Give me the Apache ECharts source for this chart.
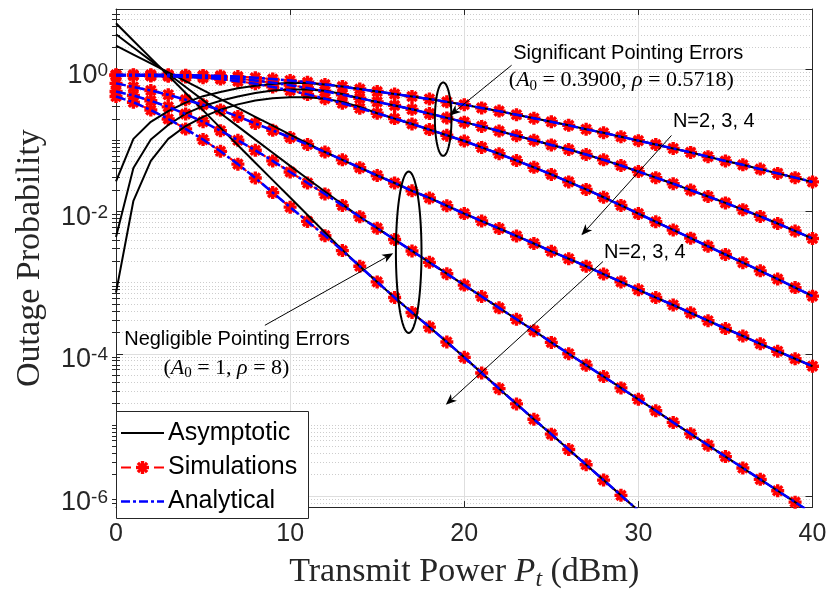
<!DOCTYPE html>
<html>
<head>
<meta charset="utf-8">
<script src="https://cdn.jsdelivr.net/npm/echarts@6/dist/echarts.min.js"></script>
<style>
html,body{margin:0;padding:0;background:#fff;}
#c{width:830px;height:597px;}
</style>
</head>
<body>
<div id="c"></div>
<script>
// ---------- DATA ----------
// x: transmit power (dBm)
const powerDbm = [0,1,2,3,4,5,6,7,8,9,10,11,12,13,14,15,16,17,18,19,20,21,22,23,24,25,26,27,28,29,30,31,32,33,34,35,36,37,38,39,40];

// log10(outage probability), exact curves (simulation == analytical)
// Significant pointing errors (A0 = 0.3900, rho = 0.5718), N = 2, 3, 4
const sigN2 = [-0.08,-0.08,-0.08,-0.08,-0.085,-0.09,-0.095,-0.105,-0.12,-0.14,-0.16,-0.185,-0.215,-0.245,-0.28,-0.315,-0.35,-0.385,-0.42,-0.46,-0.50,-0.545,-0.59,-0.64,-0.69,-0.74,-0.79,-0.845,-0.895,-0.95,-1.005,-1.06,-1.115,-1.17,-1.23,-1.29,-1.345,-1.405,-1.465,-1.525,-1.585];
const sigN3 = [-0.085,-0.085,-0.09,-0.09,-0.095,-0.10,-0.115,-0.135,-0.16,-0.19,-0.225,-0.265,-0.31,-0.36,-0.41,-0.46,-0.51,-0.565,-0.625,-0.685,-0.745,-0.805,-0.87,-0.935,-1.0,-1.065,-1.13,-1.20,-1.275,-1.355,-1.44,-1.525,-1.61,-1.70,-1.79,-1.88,-1.975,-2.07,-2.17,-2.275,-2.38];
const sigN4 = [-0.09,-0.09,-0.095,-0.10,-0.11,-0.12,-0.14,-0.17,-0.205,-0.25,-0.30,-0.355,-0.415,-0.48,-0.55,-0.62,-0.695,-0.77,-0.85,-0.93,-1.01,-1.10,-1.19,-1.285,-1.38,-1.48,-1.585,-1.69,-1.80,-1.915,-2.03,-2.145,-2.26,-2.375,-2.49,-2.605,-2.72,-2.835,-2.95,-3.07,-3.19];
// Negligible pointing errors (A0 = 1, rho = 8), N = 2, 3, 4
const negN2 = [-0.20,-0.25,-0.30,-0.36,-0.43,-0.50,-0.575,-0.665,-0.765,-0.86,-0.96,-1.06,-1.165,-1.275,-1.385,-1.495,-1.60,-1.71,-1.81,-1.92,-2.03,-2.135,-2.24,-2.345,-2.45,-2.56,-2.665,-2.77,-2.88,-2.99,-3.10,-3.21,-3.315,-3.425,-3.535,-3.645,-3.75,-3.86,-3.965,-4.07,-4.175];
const negN3 = [-0.315,-0.37,-0.445,-0.53,-0.63,-0.74,-0.865,-1.0,-1.14,-1.29,-1.445,-1.60,-1.755,-1.915,-2.075,-2.235,-2.395,-2.555,-2.715,-2.875,-3.035,-3.195,-3.355,-3.515,-3.675,-3.84,-4.0,-4.16,-4.32,-4.48,-4.64,-4.80,-4.965,-5.125,-5.285,-5.445,-5.605,-5.765,-5.925,-6.085,-6.245];
const negN4 = [-0.385,-0.465,-0.575,-0.70,-0.84,-0.99,-1.155,-1.335,-1.53,-1.735,-1.94,-2.14,-2.34,-2.55,-2.77,-2.99,-3.21,-3.42,-3.625,-3.835,-4.05,-4.27,-4.49,-4.705,-4.92,-5.13,-5.345,-5.56,-5.775,-5.99,-6.205];

// Asymptotic curves: low-power part read separately, afterwards they lie on the exact curves
const asymSigN2Head = [-1.577,-0.98,-0.74,-0.59,-0.47,-0.38,-0.32,-0.27,-0.235,-0.21,-0.19,-0.195];
const asymSigN3Head = [-2.36,-1.39,-0.99,-0.785,-0.625,-0.52,-0.445,-0.385,-0.335,-0.30,-0.285,-0.285,-0.305,-0.35];
const asymSigN4Head = [-3.14,-1.85,-1.29,-0.98,-0.80,-0.67,-0.57,-0.495,-0.44,-0.41,-0.395,-0.395,-0.415,-0.46,-0.53];
const asymNegN2Head = [0.33,0.205,0.08,-0.045,-0.17,-0.295,-0.42,-0.545,-0.67,-0.795,-0.92,-1.045];
const asymNegN3Head = [0.49,0.305,0.12,-0.065,-0.25,-0.435,-0.62,-0.805,-0.99,-1.175,-1.36,-1.54,-1.72,-1.90];
const asymNegN4Head = [0.645,0.40,0.155,-0.09,-0.335,-0.58,-0.825,-1.07,-1.315,-1.56,-1.805,-2.05,-2.295,-2.54];

// ticks
const xTicks = [0,10,20,30,40];
const yMajorTicks = [1e-6,1e-4,1e-2,1];
const yMin = 7e-7, yMax = 7;

// legend / annotation texts
const legendNames = ['Asymptotic','Simulations','Analytical'];
const annoSigTitle = 'Significant Pointing Errors';
const annoNegTitle = 'Negligible Pointing Errors';
const annoN = 'N=2, 3, 4';

// ---------- BUILD ----------
const toPairs = logs => logs.map((v,i) => [powerDbm[i], Math.pow(10, v)]);
const withTail = (head, exact) => head.concat(exact.slice(head.length));

const exactCurves = [sigN2, sigN3, sigN4, negN2, negN3, negN4];
const asymCurves = [
  withTail(asymSigN2Head, sigN2), withTail(asymSigN3Head, sigN3), withTail(asymSigN4Head, sigN4),
  withTail(asymNegN2Head, negN2), withTail(asymNegN3Head, negN3), withTail(asymNegN4Head, negN4)
];

const yMinorTicks = [];
for (let e = -7; e <= 0; e++) {
  for (let k = 1; k <= 9; k++) {
    if (k === 1 && e % 2 === 0) continue;
    const v = k * Math.pow(10, e);
    if (v > yMin * 1.0001 && v < yMax * 0.9999) yMinorTicks.push(v);
  }
}

// asterisk-like marker (+ and x bars)
const starBars = [
  [[-1.3,-5],[1.3,-5],[1.3,5],[-1.3,5]],
  [[-5,-1.3],[5,-1.3],[5,1.3],[-5,1.3]],
  [[-2.62,-4.46],[4.46,2.62],[2.62,4.46],[-4.46,-2.62]],
  [[-2.62,4.46],[-4.46,2.62],[2.62,-4.46],[4.46,-2.62]]
];
const starPath = 'path://' + starBars.map(b => 'M' + b.map(q => q[0] + ',' + q[1]).join('L') + 'Z').join(' ');

const RED = '#ff0000', BLUE = '#0000ff', BLACK = '#000000', AXIS = '#262626';
const SANS = 'Liberation Sans', SERIF = 'Liberation Serif';
const MARK = 13;

const series = [];
exactCurves.forEach(c => {
  series.push({
    type: 'line', name: 'Simulations', data: toPairs(c), z: 1,
    symbol: starPath, symbolSize: MARK, showSymbol: true,
    itemStyle: {color: RED}, lineStyle: {color: RED, width: 2, type: [8,5]},
    silent: true, animation: false, emphasis: {disabled: true}
  });
});
asymCurves.forEach(c => {
  series.push({
    type: 'line', name: 'Asymptotic', data: toPairs(c), z: 2,
    symbol: 'none', showSymbol: false,
    lineStyle: {color: BLACK, width: 2},
    silent: true, animation: false, emphasis: {disabled: true}
  });
});
exactCurves.forEach(c => {
  series.push({
    type: 'line', name: 'Analytical', data: toPairs(c), z: 3,
    symbol: 'none', showSymbol: false,
    lineStyle: {color: BLUE, width: 2.5, type: [10,3,3,3]},
    silent: true, animation: false, emphasis: {disabled: true}
  });
});

const yLabelFormatter = v => '{b|10}{s|' + Math.round(Math.log10(v)) + '}';
const baseLogAxis = {type: 'log', logBase: 10, min: yMin, max: yMax};

const option = {
  animation: false,
  backgroundColor: '#ffffff',
  grid: {left: 116, right: 17.5, top: 9, bottom: 79, containLabel: false},
  xAxis: [
    {
      type: 'value', min: 0, max: 40, interval: 10, position: 'bottom',
      name: 'Transmit Power {i|P}{s|t} (dBm)', nameLocation: 'middle', nameGap: 42,
      nameTextStyle: {
        fontFamily: SERIF, fontSize: 34, lineHeight: 40, color: AXIS,
        rich: {
          i: {fontFamily: SERIF, fontSize: 34, lineHeight: 40, fontStyle: 'italic', color: AXIS},
          s: {fontFamily: SERIF, fontSize: 24, lineHeight: 24, fontStyle: 'italic', verticalAlign: 'bottom', color: AXIS}
        }
      },
      axisLine: {show: true, onZero: false, lineStyle: {color: AXIS, width: 1}},
      axisTick: {show: true, inside: true, length: 6, lineStyle: {color: AXIS}},
      axisLabel: {show: true, margin: 15, fontFamily: SANS, fontSize: 25, color: AXIS, customValues: xTicks},
      splitLine: {show: true, lineStyle: {color: '#dedede', width: 1}}
    },
    {
      type: 'value', min: 0, max: 40, interval: 10, position: 'top',
      axisLine: {show: true, onZero: false, lineStyle: {color: AXIS, width: 1}},
      axisTick: {show: true, inside: true, length: 6, lineStyle: {color: AXIS}},
      axisLabel: {show: false}, splitLine: {show: false}
    }
  ],
  yAxis: [
    Object.assign({}, baseLogAxis, {
      position: 'left',
      name: 'Outage Probability', nameLocation: 'middle', nameGap: 66, nameRotate: 90,
      nameTextStyle: {fontFamily: SERIF, fontSize: 34, lineHeight: 40, color: AXIS},
      axisLine: {show: true, onZero: false, lineStyle: {color: AXIS, width: 1}},
      axisTick: {show: true, inside: true, length: 7, customValues: yMajorTicks, lineStyle: {color: AXIS}},
      axisLabel: {
        show: true, margin: 8, customValues: yMajorTicks, formatter: yLabelFormatter,
        padding: [12, 0, 0, 0], color: AXIS,
        rich: {
          b: {fontFamily: SANS, fontSize: 27, lineHeight: 28, color: AXIS},
          s: {fontFamily: SANS, fontSize: 19, lineHeight: 10, verticalAlign: 'top', color: AXIS}
        }
      },
      splitLine: {show: true, lineStyle: {color: '#dedede', width: 1}}
    }),
    Object.assign({}, baseLogAxis, {
      position: 'left',
      axisLine: {show: false},
      axisTick: {show: true, inside: true, length: 4, customValues: yMinorTicks, lineStyle: {color: AXIS}},
      axisLabel: {show: false},
      splitLine: {show: true, lineStyle: {color: '#cdcdcd', width: 1, type: [1, 2]}}
    }),
    Object.assign({}, baseLogAxis, {
      position: 'right',
      axisLine: {show: true, onZero: false, lineStyle: {color: AXIS, width: 1}},
      axisTick: {show: true, inside: true, length: 7, customValues: yMajorTicks, lineStyle: {color: AXIS}},
      axisLabel: {show: false}, splitLine: {show: false}
    }),
    Object.assign({}, baseLogAxis, {
      position: 'right',
      axisLine: {show: false},
      axisTick: {show: true, inside: true, length: 4, customValues: yMinorTicks, lineStyle: {color: AXIS}},
      axisLabel: {show: false}, splitLine: {show: false}
    })
  ],
  series: series
};

const chart = echarts.init(document.getElementById('c'), null, {renderer: 'canvas', width: 830, height: 597});
chart.setOption(option);

// ---------- ANNOTATIONS & LEGEND (graphic) ----------
const P = (d, lg) => chart.convertToPixel({xAxisIndex: 0, yAxisIndex: 0}, [d, Math.pow(10, lg)]);

const annoTexts = [
  {kind: 'sans', text: annoSigTitle, at: [29.42, 0.217]},
  {kind: 'math', text: '{p|(}{i|A}{s|0}{p| = 0.3900, }{i|ρ}{p| = 0.5718)}', at: [29.02, -0.156]},
  {kind: 'sans', text: annoN, at: [34.33, -0.737]},
  {kind: 'sans', text: annoN, at: [30.37, -2.57]},
  {kind: 'sans', text: annoNegTitle, at: [6.95, -3.797]},
  {kind: 'math', text: '{p|(}{i|A}{s|0}{p| = 1, }{i|ρ}{p| = 8)}', at: [6.34, -4.197]}
];
const annoArrows = [
  [[22.72, 0.055], [19.17, -0.652]],
  [[31.9, -0.932], [26.73, -2.335]],
  [[27.97, -2.703], [18.94, -4.717]],
  [[8.55, -3.6], [15.92, -2.588]]
];
const annoEllipses = [
  {c: [18.79, -0.703], rx: 8.3, ry: 36.7},
  {c: [16.81, -2.574], rx: 12.8, ry: 80.7}
];

const mathRich = {
  p: {fontFamily: SERIF, fontSize: 22, lineHeight: 26, color: '#000'},
  i: {fontFamily: SERIF, fontSize: 22, lineHeight: 26, fontStyle: 'italic', color: '#000'},
  s: {fontFamily: SERIF, fontSize: 15, lineHeight: 15, verticalAlign: 'bottom', color: '#000'}
};

const g = [];
annoTexts.forEach(t => {
  const p = P(t.at[0], t.at[1]);
  const style = {text: t.text, x: p[0], y: p[1], align: 'center', verticalAlign: 'middle',
    textAlign: 'center', textVerticalAlign: 'middle', fill: '#000'};
  if (t.kind === 'sans') { style.fontFamily = SANS; style.fontSize = 20; }
  else { style.rich = mathRich; style.fontFamily = SERIF; style.fontSize = 22; }
  g.push({type: 'text', z: 100, silent: true, style: style});
});
annoArrows.forEach(a => {
  const s = P(a[0][0], a[0][1]), e = P(a[1][0], a[1][1]);
  const dx = e[0] - s[0], dy = e[1] - s[1], len = Math.hypot(dx, dy);
  const ux = dx / len, uy = dy / len, nx = -uy, ny = ux;
  const hl = 11, hw = 4.5, notch = 8;
  g.push({type: 'line', z: 100, silent: true,
    shape: {x1: s[0], y1: s[1], x2: e[0] - ux * notch, y2: e[1] - uy * notch},
    style: {stroke: '#000', lineWidth: 1}});
  g.push({type: 'polygon', z: 100, silent: true,
    shape: {points: [
      [e[0], e[1]],
      [e[0] - ux * hl + nx * hw, e[1] - uy * hl + ny * hw],
      [e[0] - ux * notch, e[1] - uy * notch],
      [e[0] - ux * hl - nx * hw, e[1] - uy * hl - ny * hw]
    ]},
    style: {fill: '#000'}});
});
annoEllipses.forEach(el => {
  const c = P(el.c[0], el.c[1]);
  const pts = [];
  for (let k = 0; k < 96; k++) {
    const t = k / 96 * Math.PI * 2;
    pts.push([c[0] + el.rx * Math.cos(t), c[1] + el.ry * Math.sin(t)]);
  }
  g.push({type: 'polygon', z: 100, silent: true, shape: {points: pts},
    style: {fill: 'none', stroke: '#000', lineWidth: 2}});
});

// legend (drawn manually to reproduce MATLAB-style samples)
const LG = {x: 116.5, y: 411.5, w: 192, h: 107, rows: [433, 467.5, 501.5], lineX1: 121, lineX2: 164, textX: 168};
g.push({type: 'rect', z: 110, silent: true, shape: {x: LG.x, y: LG.y, width: LG.w, height: LG.h},
  style: {fill: '#fff', stroke: AXIS, lineWidth: 1}});
g.push({type: 'line', z: 111, silent: true, shape: {x1: LG.lineX1, y1: LG.rows[0], x2: LG.lineX2, y2: LG.rows[0]},
  style: {stroke: BLACK, lineWidth: 2}});
g.push({type: 'line', z: 111, silent: true, shape: {x1: LG.lineX1, y1: LG.rows[1], x2: LG.lineX1 + 10, y2: LG.rows[1]},
  style: {stroke: RED, lineWidth: 2}});
g.push({type: 'line', z: 111, silent: true, shape: {x1: LG.lineX2 - 10, y1: LG.rows[1], x2: LG.lineX2, y2: LG.rows[1]},
  style: {stroke: RED, lineWidth: 2}});
(function () {
  const cx = (LG.lineX1 + LG.lineX2) / 2, cy = LG.rows[1], sc = MARK / 10;
  starBars.forEach(b => g.push({type: 'polygon', z: 112, silent: true,
    shape: {points: b.map(q => [cx + q[0] * sc, cy + q[1] * sc])}, style: {fill: RED}}));
})();
g.push({type: 'line', z: 111, silent: true, shape: {x1: LG.lineX1, y1: LG.rows[2], x2: LG.lineX2, y2: LG.rows[2]},
  style: {stroke: BLUE, lineWidth: 2.5, lineDash: [9,3,3,3]}});
legendNames.forEach((n, i) => {
  g.push({type: 'text', z: 112, silent: true,
    style: {text: n, x: LG.textX, y: LG.rows[i], align: 'left', verticalAlign: 'middle',
      textAlign: 'left', textVerticalAlign: 'middle', fontFamily: SANS, fontSize: 25, fill: '#000'}});
});

chart.setOption({graphic: {elements: g}});
</script>
</body>
</html>
